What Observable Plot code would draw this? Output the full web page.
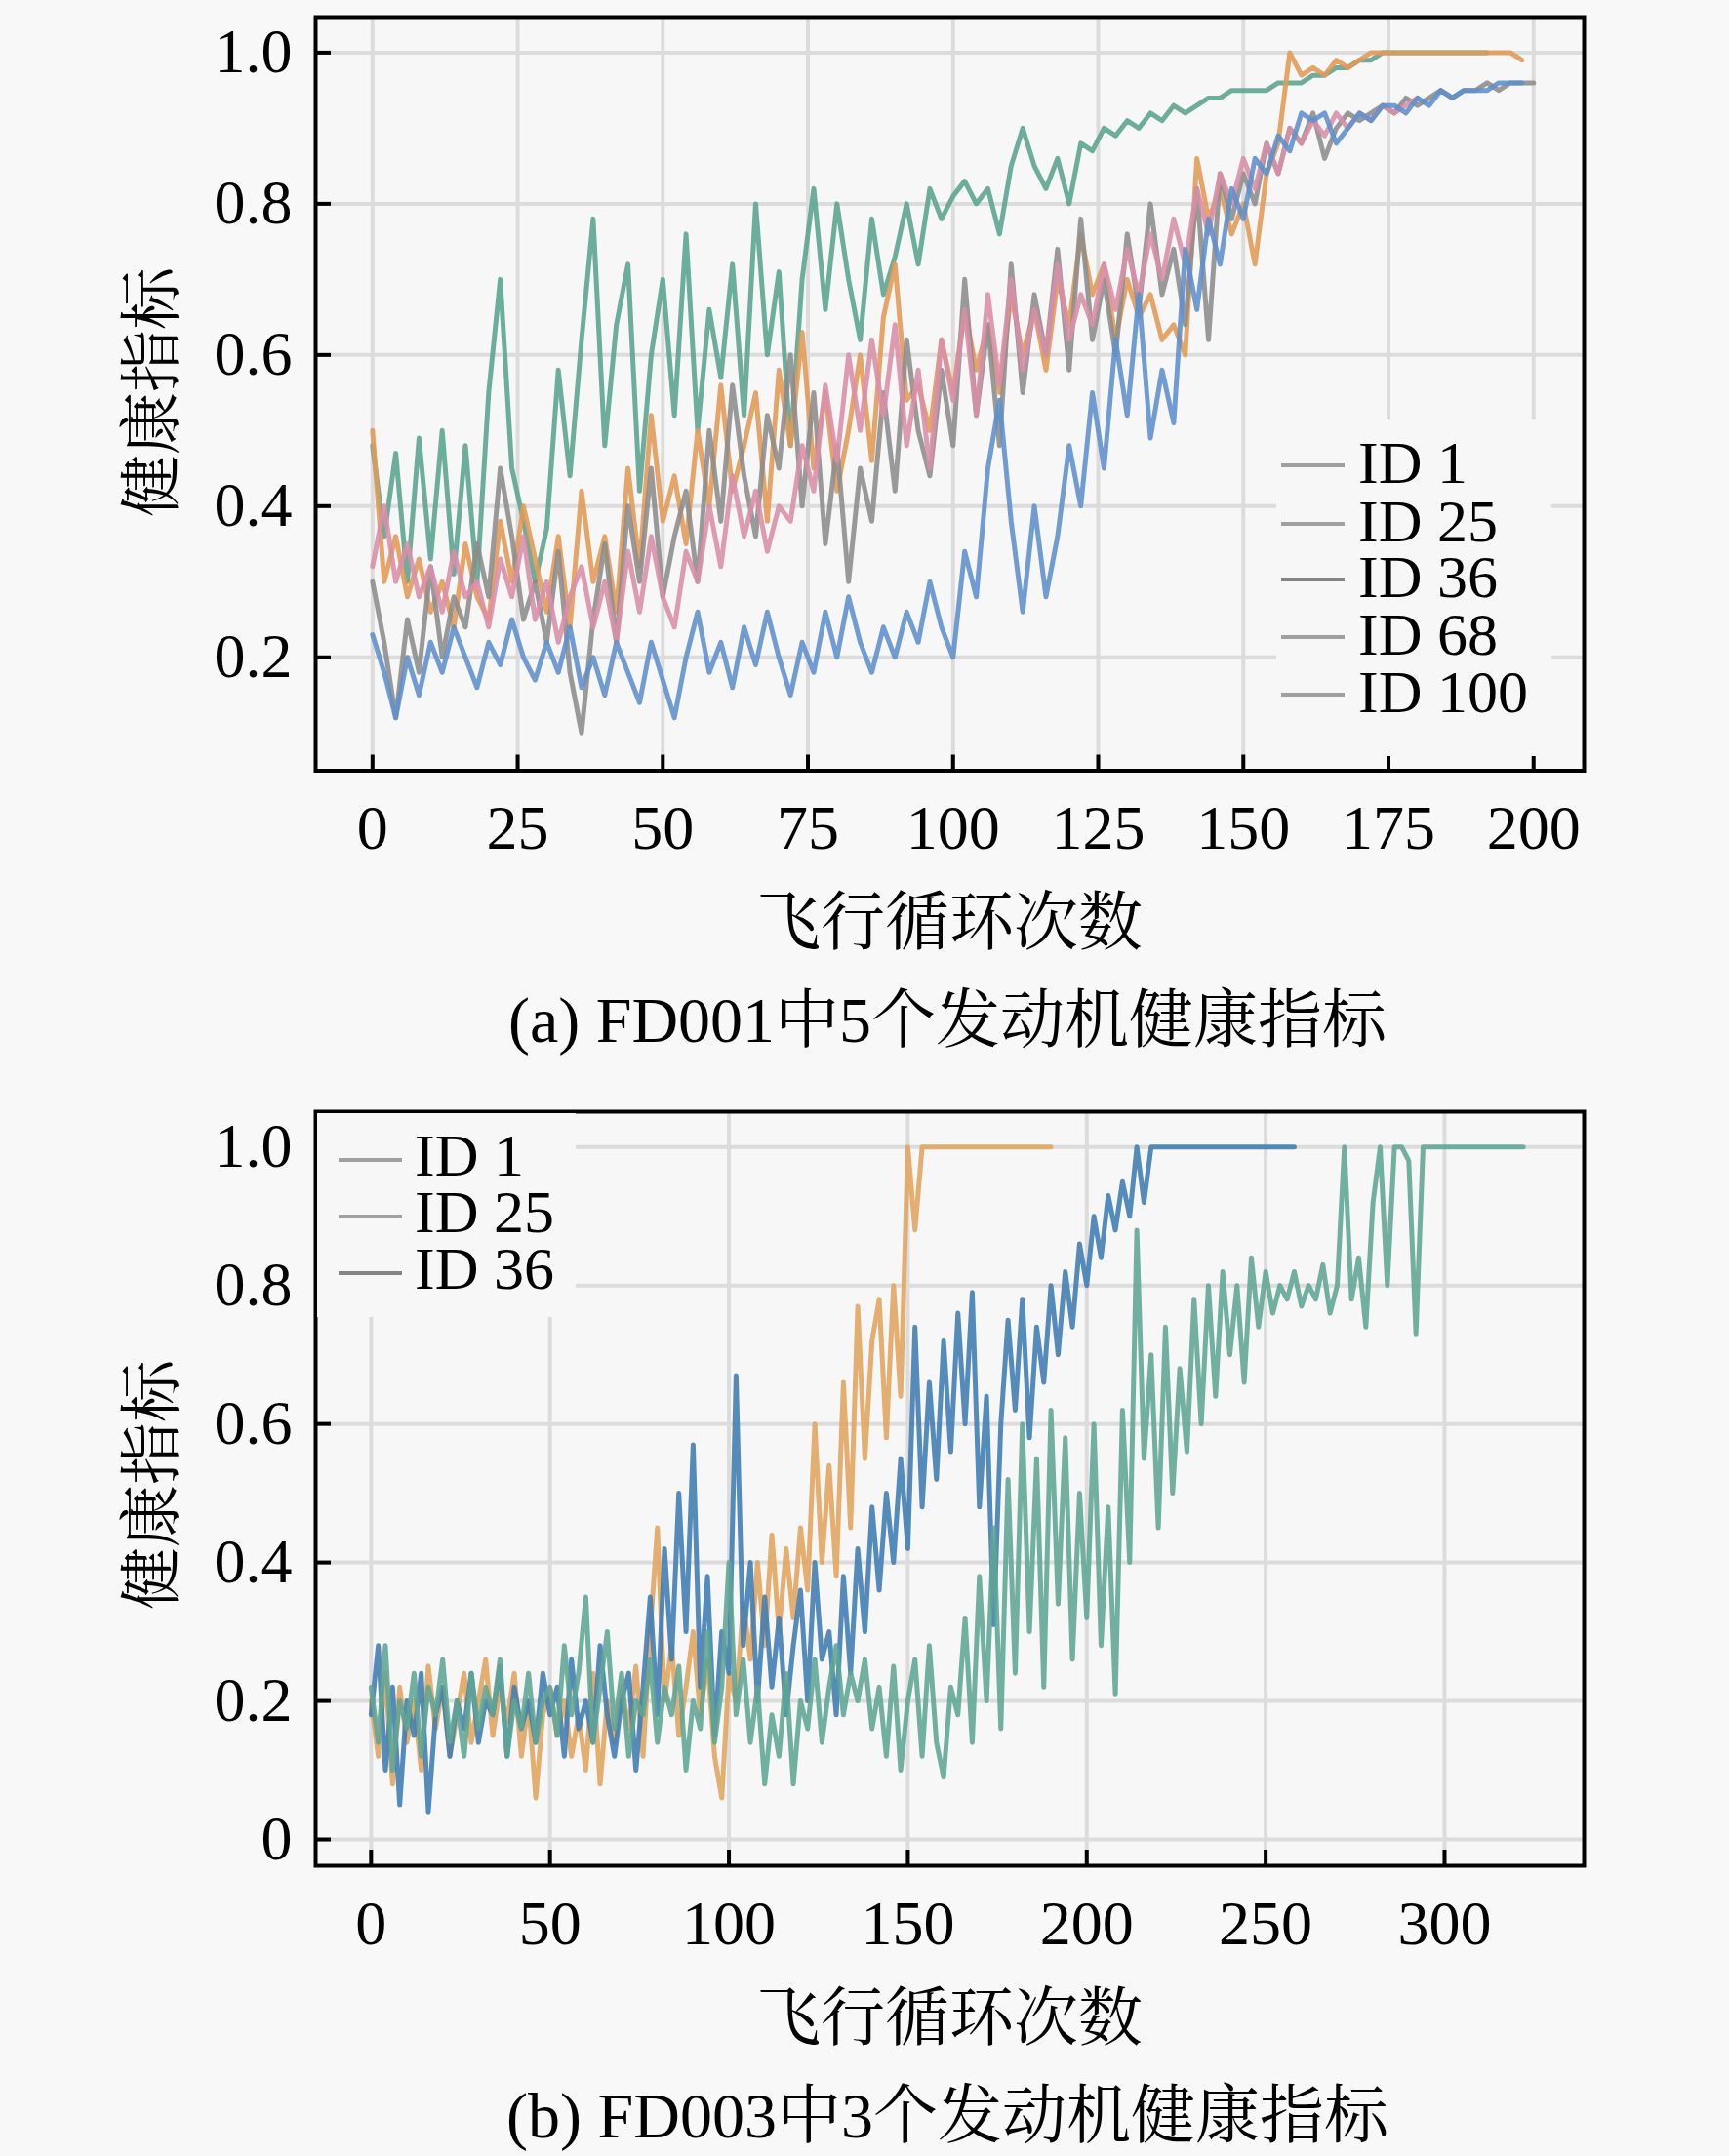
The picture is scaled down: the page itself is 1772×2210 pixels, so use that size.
<!DOCTYPE html>
<html><head><meta charset="utf-8">
<script src="https://cdn.jsdelivr.net/npm/d3@7"></script>
<script src="https://cdn.jsdelivr.net/npm/@observablehq/plot@0.6"></script>
<style>
html,body{margin:0;padding:0;background:#f8f8f8;}
#root{position:relative;width:1772px;height:2210px;overflow:hidden;background:#f8f8f8;}
#root svg{position:absolute;left:0;}
</style></head><body><div id="root"></div>
<script>
// ---------- data (health index sampled every 2 flight cycles, starting at cycle 0) ----------
const cycleStep = 2;

// (a) FD001
const idsA = ["ID 1", "ID 25", "ID 36", "ID 68", "ID 100"];
const colorsA = ["#5aa38e", "#e39a55", "#8c8c8c", "#d98ea8", "#5d8fcc"];
const fd001_id1 = [.48,.36,.47,.30,.49,.33,.50,.31,.48,.30,
  .55,.70,.45,.38,.30,.37,.58,.44,.62,.78,
  .48,.64,.72,.42,.60,.70,.52,.76,.50,.66,
  .57,.72,.52,.80,.60,.71,.48,.70,.82,.66,
  .80,.70,.62,.78,.68,.73,.80,.72,.82,.78,
  .81,.83,.80,.82,.76,.85,.90,.85,.82,.86,
  .80,.88,.87,.90,.89,.91,.90,.92,.91,.93,
  .92,.93,.94,.94,.95,.95,.95,.95,.96,.96,
  .96,.97,.97,.98,.98,.99,.99,1.0,1.0,1.0,1.0,1.0,1.0,1.0,1.0,1.0,1.0];
const fd001_id25 = [.50,.30,.36,.28,.33,.26,.30,.24,.35,.28,
  .25,.38,.30,.40,.33,.26,.36,.24,.42,.30,
  .36,.26,.45,.32,.52,.38,.44,.35,.50,.40,
  .56,.42,.48,.55,.38,.58,.48,.63,.45,.55,
  .42,.50,.60,.46,.65,.72,.54,.56,.50,.62,
  .55,.66,.58,.64,.55,.68,.60,.66,.58,.70,
  .64,.76,.68,.72,.62,.70,.65,.68,.62,.64,
  .60,.86,.78,.82,.76,.80,.72,.84,.88,1.0,
  .97,.98,.97,.99,.98,.99,1.0,1.0,1.0,1.0,
  1.0,1.0,1.0,1.0,1.0,1.0,1.0,1.0,1.0,.99];
const fd001_id36 = [.30,.22,.12,.25,.18,.32,.20,.28,.24,.35,
  .28,.45,.36,.25,.30,.22,.34,.18,.10,.25,
  .35,.22,.40,.30,.45,.28,.36,.42,.30,.50,
  .38,.56,.44,.36,.52,.45,.60,.40,.55,.35,
  .48,.30,.45,.38,.55,.42,.62,.50,.44,.58,
  .48,.70,.52,.64,.48,.72,.55,.68,.60,.74,
  .58,.78,.62,.70,.60,.76,.66,.80,.68,.74,
  .64,.82,.62,.84,.78,.84,.80,.88,.84,.90,
  .88,.92,.86,.90,.92,.91,.92,.93,.92,.94,
  .93,.94,.95,.94,.95,.95,.96,.95,.96,.96,.96];
const fd001_id68 = [.32,.40,.30,.35,.28,.32,.26,.34,.28,.30,
  .24,.33,.28,.36,.25,.30,.22,.28,.32,.24,
  .30,.22,.34,.26,.36,.28,.24,.34,.30,.40,
  .32,.44,.36,.42,.34,.40,.38,.48,.42,.56,
  .46,.60,.50,.62,.52,.64,.48,.58,.45,.62,
  .54,.66,.52,.68,.56,.70,.58,.66,.60,.72,
  .62,.68,.64,.72,.66,.74,.68,.76,.70,.78,
  .72,.82,.76,.84,.80,.86,.82,.88,.84,.90,
  .88,.91,.89,.92,.90,.92,.91,.93,.92,.93,.94];
const fd001_id100 = [.23,.18,.12,.20,.15,.22,.18,.24,.20,.16,
  .22,.19,.25,.20,.17,.22,.18,.24,.16,.20,
  .15,.22,.18,.14,.22,.17,.12,.20,.26,.18,
  .22,.16,.24,.19,.26,.20,.15,.22,.18,.26,
  .20,.28,.22,.18,.24,.20,.26,.22,.30,.24,
  .20,.34,.28,.45,.54,.38,.26,.40,.28,.36,
  .48,.40,.55,.45,.62,.52,.68,.49,.58,.51,
  .74,.66,.78,.72,.82,.78,.86,.84,.89,.87,
  .92,.91,.92,.88,.90,.92,.91,.93,.93,.92,
  .94,.93,.95,.94,.95,.95,.95,.96,.96,.96];
const seriesA = [fd001_id1, fd001_id25, fd001_id36, fd001_id68, fd001_id100];
const xTicksA = [0, 25, 50, 75, 100, 125, 150, 175, 200];
const yTicksA = [0.2, 0.4, 0.6, 0.8, 1.0];

// (b) FD003
const idsB = ["ID 1", "ID 25", "ID 36"];
const colorsB = ["#e0a45c", "#3f7cb3", "#5fa594"];
const fd003_id1 = [.20,.12,.24,.08,.22,.14,.20,.10,.25,.16,
  .22,.12,.18,.24,.14,.20,.26,.15,.22,.17,
  .24,.12,.20,.06,.18,.22,.15,.20,.12,.18,
  .10,.24,.08,.20,.14,.22,.16,.25,.12,.30,
  .45,.20,.28,.15,.22,.30,.18,.26,.12,.06,
  .24,.20,.34,.26,.40,.28,.44,.30,.42,.32,
  .45,.36,.60,.40,.54,.38,.66,.45,.77,.55,
  .72,.78,.58,.80,.64,1.0,.88,1.0,1.0,1.0,
  1.0,1.0,1.0,1.0,1.0,1.0,1.0,1.0,1.0,1.0,1.0,1.0,1.0,1.0,1.0,1.0];
const fd003_id25 = [.18,.28,.10,.22,.05,.20,.15,.24,.04,.18,
  .22,.12,.20,.16,.24,.14,.20,.18,.25,.12,
  .22,.16,.20,.14,.24,.18,.22,.12,.26,.16,
  .20,.14,.28,.18,.12,.20,.24,.10,.22,.35,
  .18,.42,.26,.50,.30,.57,.22,.38,.15,.30,
  .24,.67,.28,.40,.20,.35,.22,.32,.18,.28,
  .36,.20,.40,.26,.30,.18,.38,.24,.42,.30,
  .48,.36,.50,.40,.55,.42,.74,.48,.66,.52,
  .72,.56,.76,.60,.79,.48,.64,.31,.60,.75,
  .62,.78,.58,.74,.66,.80,.70,.82,.74,.86,
  .80,.90,.84,.93,.88,.95,.90,1.0,.92,1.0,
  1.0,1.0,1.0,1.0,1.0,1.0,1.0,1.0,1.0,1.0,1.0,1.0,1.0,1.0,1.0,1.0,1.0,1.0,1.0,1.0];
const fd003_id36 = [.22,.14,.28,.10,.20,.16,.24,.12,.22,.18,
  .26,.14,.20,.12,.24,.16,.22,.18,.26,.12,
  .20,.16,.24,.14,.20,.22,.15,.28,.18,.24,
  .35,.14,.22,.30,.16,.24,.12,.20,.18,.26,
  .14,.22,.18,.25,.10,.20,.16,.30,.14,.22,
  .40,.18,.26,.14,.22,.08,.18,.12,.24,.08,
  .20,.16,.26,.14,.22,.28,.18,.24,.20,.26,
  .16,.22,.12,.25,.10,.20,.26,.12,.28,.14,
  .09,.22,.18,.32,.14,.38,.20,.45,.16,.52,
  .24,.60,.30,.55,.22,.62,.34,.58,.26,.50,
  .32,.60,.28,.48,.21,.62,.40,.88,.55,.70,
  .45,.74,.50,.68,.56,.78,.60,.80,.64,.82,
  .70,.80,.66,.84,.74,.82,.76,.80,.78,.82,
  .77,.80,.78,.83,.76,.80,1.0,.78,.84,.74,
  .92,1.0,.80,1.0,1.0,.98,.73,1.0,1.0,1.0,
  1.0,1.0,1.0,1.0,1.0,1.0,1.0,1.0,1.0,1.0,1.0,1.0];
const seriesB = [fd003_id1, fd003_id25, fd003_id36];
const xTicksB = [0, 50, 100, 150, 200, 250, 300];
const yTicksB = [0, 0.2, 0.4, 0.6, 0.8, 1.0];

const xLabel = "飞行循环次数";
const yLabel = "健康指标";
const captionA = "(a) FD001中5个发动机健康指标";
const captionB = "(b) FD003中3个发动机健康指标";

// ---------- helpers ----------
const root = document.getElementById("root");
const serif = "'Liberation Serif','Times New Roman',serif";
const cjk = "'Liberation Serif','Noto Serif CJK SC','Noto Sans CJK SC',serif";

function toRows(ids, series) {
  const rows = [];
  ids.forEach((id, k) => series[k].forEach((v, i) => rows.push({id, cycle: i * cycleStep, hi: v})));
  return rows;
}

function panel({ids, colors, series, xDomain, yDomain, xTicks, yTicks, yFormat, top, height, marginTop, marginBottom}) {
  const rows = toRows(ids, series);
  const chart = Plot.plot({
    width: 1772, height,
    marginLeft: 323, marginRight: 149, marginTop, marginBottom,
    style: {background: "transparent", fontFamily: serif, fontSize: "64px", color: "#000", overflow: "visible"},
    x: {domain: xDomain, label: null},
    y: {domain: yDomain, label: null},
    color: {domain: ids, range: colors},
    marks: [
      Plot.frame({fill: "#f7f7f7", stroke: null}),
      Plot.gridX(xTicks, {stroke: "#dcdcdc", strokeWidth: 4, strokeOpacity: 1}),
      Plot.gridY(yTicks, {stroke: "#dcdcdc", strokeWidth: 4, strokeOpacity: 1}),
      Plot.line(rows, {x: "cycle", y: "hi", z: "id", stroke: "id", strokeWidth: 5, strokeOpacity: 0.88, strokeLinejoin: "round"}),
      Plot.axisX(xTicks, {tickSize: -16, tickPadding: 51, strokeWidth: 4, stroke: "#000", fontSize: 64, fill: "#000", label: null, tickFormat: d => String(d)}),
      Plot.axisY(yTicks, {tickSize: -16, tickPadding: 40, strokeWidth: 4, stroke: "#000", fontSize: 64, fill: "#000", label: null, tickFormat: yFormat}),
      Plot.frame({stroke: "#000", strokeWidth: 4, fill: null})
    ]
  });
  chart.style.top = top + "px";
  root.appendChild(chart);
}

panel({ids: idsA, colors: colorsA, series: seriesA,
  xDomain: [-9.8, 208.7], yDomain: [0.05, 1.047],
  xTicks: xTicksA, yTicks: yTicksA, yFormat: d3.format(".1f"),
  top: 0, height: 900, marginTop: 17, marginBottom: 110.5});

panel({ids: idsB, colors: colorsB, series: seriesB,
  xDomain: [-15.5, 339], yDomain: [-0.038, 1.051],
  xTicks: xTicksB, yTicks: yTicksB, yFormat: d => d === 0 ? "0" : d3.format(".1f")(d),
  top: 1100, height: 900, marginTop: 39, marginBottom: 88});

// ---------- overlay: axis titles, captions, legends ----------
const svg = d3.select(root).append("svg")
  .attr("width", 1772).attr("height", 2210)
  .style("top", "0px").style("pointer-events", "none");

function label(x, y, text, size, rotate) {
  const t = svg.append("text").attr("text-anchor", "middle")
    .attr("font-family", cjk).attr("font-size", size).attr("fill", "#000").text(text);
  if (rotate) t.attr("transform", `translate(${x},${y}) rotate(-90)`).attr("dominant-baseline", "central");
  else t.attr("x", x).attr("y", y);
}

label(155, 402, yLabel, 64, true);
label(973, 968, xLabel, 66);
label(971, 1068, captionA, 66);
label(155, 1522, yLabel, 64, true);
label(973, 2091, xLabel, 66);
label(971, 2191, captionB, 66);

function legend(box, ids, x1, x2, tx, ys, dy) {
  svg.append("rect").attr("x", box[0]).attr("y", box[1]).attr("width", box[2]).attr("height", box[3]).attr("fill", "#f7f7f7");
  ids.forEach((id, i) => {
    svg.append("line").attr("x1", x1).attr("x2", x2).attr("y1", ys[i]).attr("y2", ys[i])
      .attr("stroke", i === 2 ? "#858585" : "#a0a0a0").attr("stroke-width", 4);
    svg.append("text").attr("x", tx).attr("y", ys[i] + dy).attr("font-family", serif)
      .attr("font-size", 62).attr("fill", "#000").text(id);
  });
}
legend([1308, 430, 282, 345], idsA, 1313, 1378, 1392, [477, 537, 594, 653, 712], 18);
legend([325, 1141, 265, 209], idsB, 347, 412, 425, [1189, 1247, 1305], 16);
</script>
</body></html>
